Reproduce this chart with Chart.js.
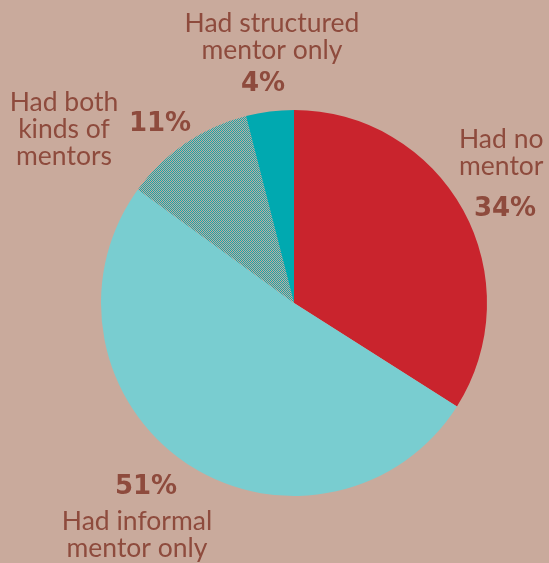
<!DOCTYPE html>
<html>
<head>
<meta charset="utf-8">
<script src="https://cdn.jsdelivr.net/npm/chart.js@4.4.0/dist/chart.umd.min.js"></script>
<style>
  html, body { margin: 0; padding: 0; background: #c9aa9c; }
  canvas { display: block; }
</style>
</head>
<body>
<canvas id="mentorPie" width="549" height="563"></canvas>
<script>
// Mentoring breakdown (share of respondents, %)
const categories = ['Had no mentor', 'Had informal mentor only', 'Had both kinds of mentors', 'Had structured mentor only'];
const shares = [34, 51, 11, 4];
const pctLabels = ['34%', '51%', '11%', '4%'];

const BG = '#c9aa9c';
const TEXT = '#8e4b3d';

// checkered teal fill for the "both" slice
function checkerPattern() {
    const c = document.createElement('canvas');
    c.width = 2; c.height = 2;
    const g = c.getContext('2d');
    g.fillStyle = BG;
    g.fillRect(0, 0, 2, 2);
    g.fillStyle = '#14a7ac';
    g.fillRect(0, 0, 1, 1);
    g.fillRect(1, 1, 1, 1);
    return g.createPattern(c, 'repeat');
}

// label text: lines of category name + percent, placed around the pie
const labelSpots = [
    { name: ['Had no', 'mentor'], x: 459, y: 139, align: 'left', pct: { x: 505, y: 209 } },
    { name: ['Had informal', 'mentor only'], x: 137, y: 521, align: 'center', pct: { x: 146, y: 487 } },
    { name: ['Had both', 'kinds of', 'mentors'], x: 64, y: 102, align: 'center', pct: { x: 160, y: 124 } },
    { name: ['Had structured', 'mentor only'], x: 272, y: 23, align: 'center', pct: { x: 263, y: 84 } }
];

const labelPlugin = {
    id: 'sliceLabels',
    afterDraw(chart) {
        const ctx = chart.ctx;
        ctx.save();
        ctx.fillStyle = TEXT;
        ctx.textBaseline = 'middle';
        labelSpots.forEach((s, i) => {
            ctx.font = '26.5px Lato, sans-serif';
            ctx.textAlign = s.align;
            s.name.forEach((line, j) => ctx.fillText(line, s.x, s.y + j * 27));
            ctx.font = 'bold 26px "DejaVu Sans", sans-serif';
            ctx.textAlign = 'center';
            ctx.fillText(pctLabels[i], s.pct.x, s.pct.y);
        });
        ctx.restore();
    }
};

new Chart(document.getElementById('mentorPie'), {
    type: 'pie',
    data: {
        labels: categories,
        datasets: [{
            data: shares,
            backgroundColor: ['#c9242d', '#79cdd0', checkerPattern(), '#00a9b0'],
            borderWidth: 0
        }]
    },
    options: {
        responsive: false,
        animation: false,
        layout: { padding: { left: 101, right: 62, top: 110, bottom: 67 } },
        plugins: {
            legend: { display: false },
            tooltip: { enabled: false }
        }
    },
    plugins: [labelPlugin]
});
</script>
</body>
</html>
